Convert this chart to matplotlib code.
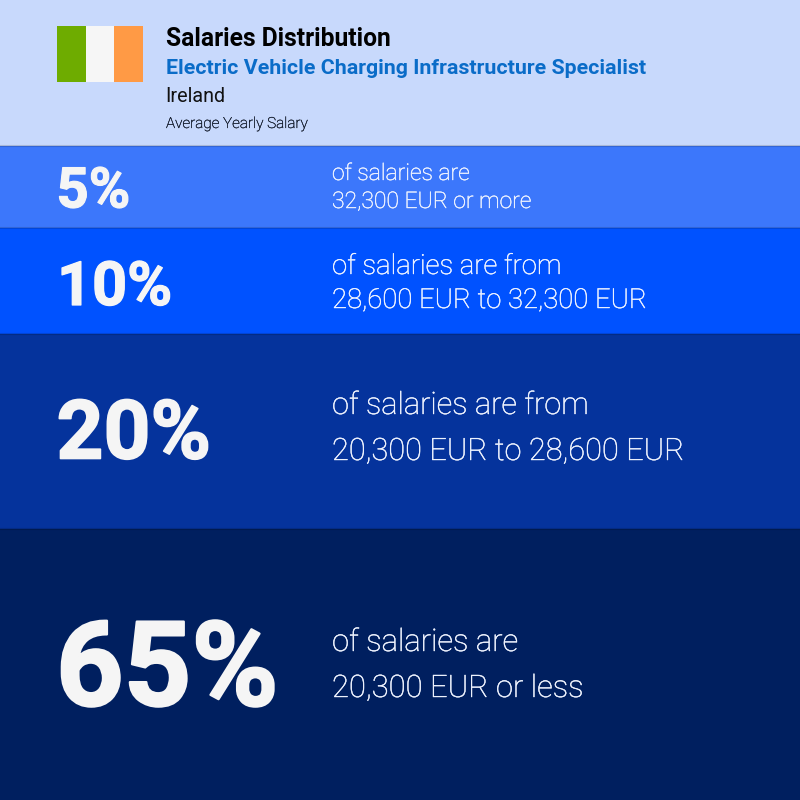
import matplotlib
matplotlib.use("Agg")
import matplotlib.pyplot as plt
from matplotlib.patches import Rectangle
import matplotlib.patheffects as pe

percent_labels = ["5%", "10%", "20%", "65%"]
line_one = ["of salaries are", "of salaries are from", "of salaries are from", "of salaries are"]
line_two = ["32,300 EUR or more", "28,600 EUR to 32,300 EUR", "20,300 EUR to 28,600 EUR", "20,300 EUR or less"]
title = "Salaries Distribution"
job = "Electric Vehicle Charging Infrastructure Specialist"
country = "Ireland"
caption = "Average Yearly Salary"

# layout (pixels)
band_top = [146, 228, 334, 529]
band_bottom = [228, 334, 529, 800]
band_colors = ["#3c77fb", "#0052ff", "#05339c", "#001f5f"]
pct_size = [40.5, 44, 59, 85]
pct_x = [56.5, 57, 56.5, 56]
pct_y = [187, 282, 428, 661]
pct_stroke = [0.8, 0.9, 1.2, 1.6]
text_size = [16.5, 19.8, 22.15, 22.3]
y1 = [173.5, 266.5, 405.5, 642.5]
y2 = [201.5, 300.5, 451.5, 688.5]

plt.rcParams["font.family"] = ["Roboto", "DejaVu Sans"]
fig = plt.figure(figsize=(8, 8), dpi=100, facecolor="#c8d9fc")
ax = fig.add_axes([0, 0, 1, 1])
ax.set_xlim(0, 800)
ax.set_ylim(800, 0)
ax.axis("off")

for top, bot, c in zip(band_top, band_bottom, band_colors):
    ax.barh((top + bot) / 2, 800, height=bot - top, left=0, color=c, linewidth=0)
    ax.plot([0, 800], [top, top], color="#000000", alpha=0.15, lw=1.5)

for x0, c in zip([57, 85.5, 114], ["#6eac00", "#f6f6f6", "#ff9a45"]):
    ax.add_patch(Rectangle((x0, 26), 29, 56, fc=c, lw=0))

ax.text(166, 38.5, title, fontsize=17.7, fontweight="bold", color="black", va="center")
ax.text(166, 68.5, job, fontsize=15.36, fontweight="bold", color="#0a6cc8", va="center")
ax.text(165.5, 97, country, fontsize=14.2, color="#111111", va="center")
ax.text(166, 124, caption, fontsize=11, fontweight="light", color="#101828", va="center",
        path_effects=[pe.withStroke(linewidth=0.2, foreground="#101828")])

for i in range(4):
    ax.text(pct_x[i], pct_y[i], percent_labels[i], fontsize=pct_size[i], fontweight="bold", color="#f5f5f5",
            va="center_baseline", path_effects=[pe.withStroke(linewidth=pct_stroke[i], foreground="#f5f5f5")])
    for txt, yy in ((line_one[i], y1[i]), (line_two[i], y2[i])):
        ax.text(332, yy, txt, fontsize=text_size[i], fontweight="light", color="#f0f4ff", va="center",
                path_effects=[pe.withStroke(linewidth=0.3, foreground="#f0f4ff")])

fig.savefig("out.png", dpi=100)
